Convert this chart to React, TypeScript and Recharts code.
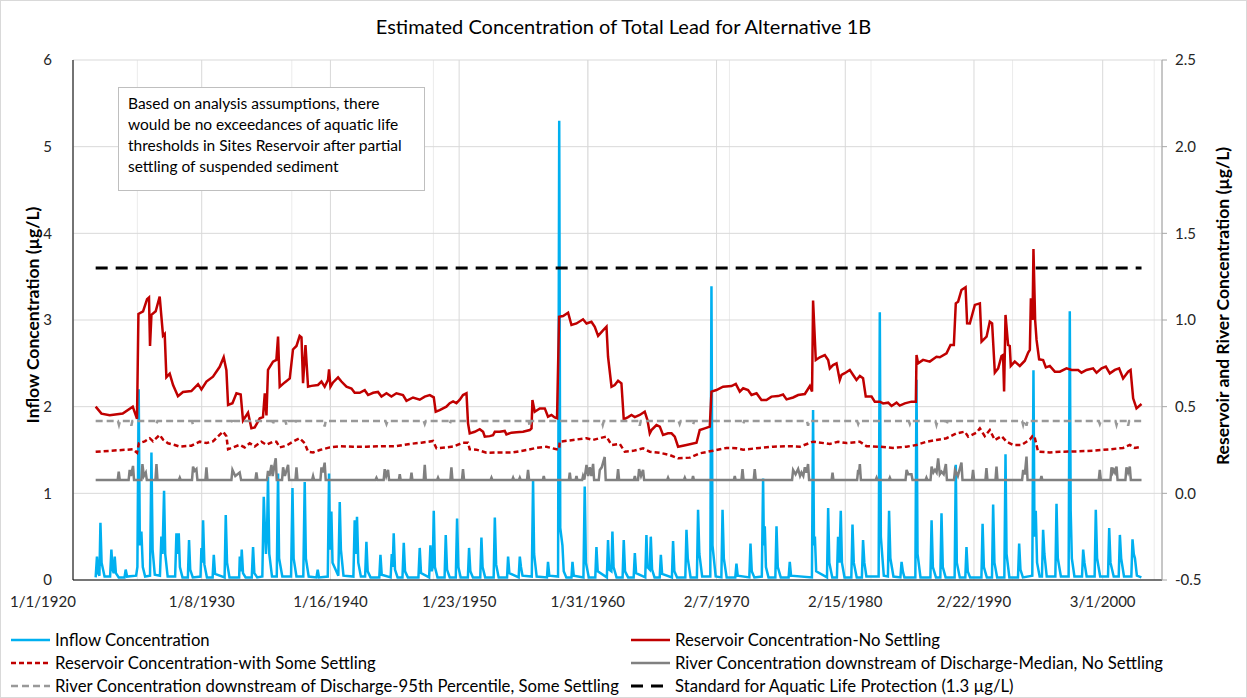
import { LineChart, Line, XAxis, YAxis, CartesianGrid, Legend } from 'recharts';

// values: [decimal year, concentration µg/L]
const inflow: [number, number][] = [
  [1921.76, 0.03], [1921.86, 0.27], [1921.95, 0.08], [1922.05, 0.05], [1922.13, 0.66], [1922.22, 0.2], [1922.45, 0.04],
  [1922.88, 0.04], [1922.98, 0.35], [1923.07, 0.12], [1923.16, 0.08], [1923.24, 0.27], [1923.33, 0.08], [1923.55, 0.03],
  [1924.0, 0.03], [1924.09, 0.12], [1924.2, 0.04], [1924.9, 0.05], [1925.0, 0.15], [1925.1, 2.2], [1925.19, 0.4],
  [1925.31, 0.56], [1925.42, 0.15], [1925.6, 0.04], [1925.98, 0.05], [1926.09, 1.47], [1926.18, 0.35], [1926.35, 0.06],
  [1926.75, 0.05], [1926.86, 0.5], [1926.95, 0.3], [1927.07, 1.03], [1927.16, 0.3], [1927.35, 0.04],
  [1927.93, 0.04], [1928.03, 0.54], [1928.12, 0.3], [1928.21, 0.54], [1928.3, 0.15], [1928.5, 0.03],
  [1928.92, 0.03], [1929.01, 0.46], [1929.1, 0.12], [1929.3, 0.03], [1929.9, 0.04], [1929.97, 0.37], [1930.03, 0.2],
  [1930.1, 0.69], [1930.2, 0.18], [1930.4, 0.03], [1930.84, 0.03], [1930.93, 0.29], [1931.03, 0.07],
  [1931.77, 0.03], [1931.86, 0.75], [1931.96, 0.2], [1932.15, 0.03], [1932.9, 0.03], [1932.95, 0.27], [1933.03, 0.1],
  [1933.1, 0.35], [1933.2, 0.08], [1933.4, 0.03], [1933.88, 0.03], [1933.98, 0.38], [1934.08, 0.08], [1934.3, 0.03],
  [1934.7, 0.04], [1934.81, 0.96], [1934.9, 0.6], [1934.98, 0.3], [1935.06, 0.5], [1935.14, 1.19], [1935.24, 0.3], [1935.45, 0.04],
  [1935.82, 0.04], [1935.92, 1.23], [1936.0, 0.25], [1936.25, 0.04], [1936.93, 0.04], [1937.04, 1.06], [1937.13, 0.25], [1937.35, 0.04],
  [1937.88, 0.04], [1937.99, 1.13], [1938.08, 0.25], [1938.3, 0.04], [1938.9, 0.03], [1939.0, 0.12], [1939.1, 0.03],
  [1939.78, 0.04], [1939.88, 1.23], [1939.96, 0.35], [1940.06, 0.79], [1940.15, 0.2], [1940.6, 0.05], [1940.71, 0.9], [1940.8, 0.35], [1941.0, 0.05],
  [1941.77, 0.04], [1941.87, 0.69], [1941.95, 0.3], [1942.05, 0.73], [1942.15, 0.2], [1942.35, 0.04],
  [1942.68, 0.04], [1942.78, 0.44], [1942.88, 0.1], [1943.1, 0.03], [1943.78, 0.03], [1943.87, 0.29], [1943.97, 0.06],
  [1944.66, 0.03], [1944.75, 0.3], [1944.82, 0.15], [1944.9, 0.54], [1945.0, 0.12], [1945.2, 0.03],
  [1945.58, 0.03], [1945.68, 0.43], [1945.78, 0.1], [1946.0, 0.03], [1946.82, 0.03], [1946.92, 0.37], [1947.02, 0.08],
  [1947.65, 0.03], [1947.75, 0.4], [1947.85, 0.1], [1947.93, 0.15], [1948.01, 0.8], [1948.1, 0.15], [1948.3, 0.03],
  [1948.85, 0.03], [1948.94, 0.52], [1949.04, 0.12], [1949.25, 0.03], [1949.72, 0.03], [1949.82, 0.71], [1949.92, 0.15], [1950.1, 0.03],
  [1950.66, 0.03], [1950.75, 0.37], [1950.85, 0.1], [1951.05, 0.03], [1951.62, 0.03], [1951.71, 0.49], [1951.8, 0.15], [1952.0, 0.03],
  [1952.66, 0.03], [1952.75, 0.72], [1952.85, 0.18], [1953.05, 0.03], [1953.7, 0.03], [1953.78, 0.27], [1953.88, 0.08],
  [1954.6, 0.03], [1954.69, 0.27], [1954.78, 0.15], [1954.9, 0.05], [1955.62, 0.04], [1955.72, 1.15], [1955.8, 0.3], [1956.0, 0.04],
  [1956.8, 0.03], [1956.88, 0.21], [1956.98, 0.05], [1957.66, 0.04], [1957.75, 5.3], [1957.83, 0.6], [1958.0, 0.4], [1958.1, 0.1], [1958.3, 0.03],
  [1958.7, 0.03], [1958.78, 0.21], [1958.88, 0.05], [1959.63, 0.03], [1959.73, 1.08], [1959.82, 0.2], [1960.05, 0.03],
  [1960.55, 0.03], [1960.64, 0.38], [1960.74, 0.1], [1961.45, 0.03], [1961.54, 0.46], [1961.63, 0.12], [1961.8, 0.1], [1961.88, 0.56], [1961.97, 0.15], [1962.2, 0.03],
  [1962.67, 0.03], [1962.76, 0.46], [1962.86, 0.1], [1963.1, 0.03], [1963.53, 0.03], [1963.62, 0.31], [1963.72, 0.08],
  [1964.43, 0.03], [1964.52, 0.52], [1964.6, 0.15], [1964.78, 0.12], [1964.86, 0.5], [1964.96, 0.12], [1965.15, 0.03],
  [1965.55, 0.03], [1965.64, 0.29], [1965.74, 0.07], [1966.5, 0.03], [1966.59, 0.45], [1966.69, 0.1], [1966.9, 0.03],
  [1967.54, 0.03], [1967.63, 0.58], [1967.73, 0.25], [1967.95, 0.03], [1968.44, 0.03], [1968.53, 0.81], [1968.63, 0.3], [1968.85, 0.04],
  [1969.48, 0.04], [1969.57, 3.39], [1969.65, 0.4], [1969.9, 0.04], [1970.34, 0.03], [1970.43, 0.81], [1970.53, 0.25], [1970.75, 0.03],
  [1971.42, 0.03], [1971.51, 0.19], [1971.61, 0.05], [1972.51, 0.03], [1972.6, 0.42], [1972.7, 0.1], [1972.9, 0.03],
  [1973.48, 0.04], [1973.58, 1.17], [1973.64, 0.4], [1973.71, 0.62], [1973.8, 0.15], [1974.0, 0.03],
  [1974.53, 0.03], [1974.62, 0.62], [1974.72, 0.15], [1974.95, 0.03], [1975.56, 0.03], [1975.65, 0.21], [1975.75, 0.05],
  [1977.37, 0.03], [1977.46, 1.96], [1977.53, 0.4], [1977.6, 0.5], [1977.7, 0.1], [1978.54, 0.03], [1978.63, 0.83], [1978.72, 0.2], [1978.95, 0.03],
  [1979.31, 0.03], [1979.4, 0.5], [1979.5, 0.2], [1979.61, 0.8], [1979.7, 0.2], [1979.9, 0.03],
  [1980.43, 0.03], [1980.52, 0.64], [1980.62, 0.2], [1980.85, 0.03], [1981.25, 0.03], [1981.34, 0.46], [1981.44, 0.2], [1981.6, 0.04],
  [1982.55, 0.04], [1982.64, 3.09], [1982.72, 0.5], [1982.95, 0.05], [1983.27, 0.04], [1983.36, 0.8], [1983.46, 0.25], [1983.7, 0.04],
  [1984.24, 0.03], [1984.33, 0.21], [1984.43, 0.1], [1984.55, 0.03], [1985.4, 0.03], [1985.49, 2.31], [1985.57, 0.3], [1985.8, 0.03],
  [1986.57, 0.03], [1986.66, 0.69], [1986.76, 0.15], [1987.0, 0.03], [1987.34, 0.03], [1987.43, 0.77], [1987.53, 0.15], [1987.75, 0.03],
  [1988.45, 0.03], [1988.54, 1.33], [1988.62, 0.2], [1988.85, 0.03], [1989.28, 0.03], [1989.37, 0.38], [1989.47, 0.1], [1989.65, 0.03],
  [1990.53, 0.03], [1990.62, 0.65], [1990.72, 0.15], [1990.95, 0.03], [1991.35, 0.03], [1991.44, 0.87], [1991.54, 0.2], [1991.75, 0.03],
  [1992.31, 0.03], [1992.4, 1.45], [1992.48, 0.3], [1992.7, 0.03], [1993.37, 0.03], [1993.46, 0.42], [1993.56, 0.12], [1993.75, 0.03],
  [1994.48, 0.05], [1994.57, 2.42], [1994.65, 0.5], [1994.75, 0.8], [1994.85, 0.2], [1995.05, 0.04],
  [1995.23, 0.04], [1995.32, 0.58], [1995.42, 0.3], [1995.6, 0.04], [1996.27, 0.04], [1996.36, 0.88], [1996.46, 0.25], [1996.7, 0.04],
  [1997.3, 0.04], [1997.39, 3.1], [1997.46, 0.8], [1997.55, 0.25], [1997.75, 0.04], [1998.34, 0.04], [1998.43, 0.35], [1998.53, 0.2], [1998.7, 0.04],
  [1999.32, 0.04], [1999.41, 0.81], [1999.51, 0.25], [1999.75, 0.04], [2000.36, 0.04], [2000.45, 0.6], [2000.55, 0.2], [2000.8, 0.04],
  [2001.19, 0.04], [2001.28, 0.52], [2001.38, 0.25], [2001.6, 0.04], [2002.17, 0.04], [2002.26, 0.47], [2002.36, 0.3], [2002.45, 0.25], [2002.6, 0.05], [2002.95, 0.03],
];

const reservoirNoSettling: [number, number][] = [
  [1921.76, 0.5], [1922.21, 0.46], [1922.85, 0.45], [1923.86, 0.46], [1924.64, 0.5], [1924.97, 0.43], [1925.08, 1.035], [1925.44, 1.05],
  [1925.75, 1.12], [1925.9, 1.13], [1925.98, 0.85], [1926.09, 1.03], [1926.42, 1.05], [1926.73, 1.135], [1926.99, 0.91], [1927.12, 0.92],
  [1927.25, 0.67], [1927.51, 0.69], [1927.77, 0.625], [1928.15, 0.56], [1928.54, 0.585], [1929.19, 0.59], [1929.71, 0.63], [1929.97, 0.6],
  [1930.36, 0.645], [1930.87, 0.673], [1931.39, 0.73], [1931.7, 0.785], [1931.91, 0.71], [1932.04, 0.51], [1932.38, 0.52], [1932.69, 0.577],
  [1933.02, 0.57], [1933.2, 0.42], [1933.59, 0.465], [1933.85, 0.375], [1934.11, 0.38], [1934.5, 0.433], [1934.75, 0.44], [1934.89, 0.577],
  [1935.02, 0.45], [1935.14, 0.712], [1935.53, 0.76], [1935.79, 0.77], [1935.92, 0.904], [1936.05, 0.615], [1936.44, 0.64], [1936.83, 0.663],
  [1937.08, 0.83], [1937.35, 0.85], [1937.6, 0.908], [1937.74, 0.9], [1937.86, 0.635], [1938.05, 0.856], [1938.25, 0.615], [1938.51, 0.62],
  [1939.02, 0.625], [1939.29, 0.645], [1939.54, 0.615], [1939.8, 0.655], [1939.88, 0.715], [1939.99, 0.615], [1940.19, 0.64], [1940.58, 0.669],
  [1940.84, 0.645], [1941.23, 0.615], [1941.62, 0.605], [1941.87, 0.58], [1942.26, 0.58], [1942.65, 0.595], [1942.91, 0.567], [1943.3, 0.58],
  [1943.68, 0.585], [1943.95, 0.558], [1944.34, 0.577], [1944.72, 0.558], [1945.11, 0.577], [1945.62, 0.567], [1945.89, 0.534], [1946.4, 0.553],
  [1946.92, 0.54], [1947.31, 0.558], [1947.7, 0.567], [1948.01, 0.554], [1948.16, 0.471], [1948.47, 0.48], [1948.73, 0.49], [1948.99, 0.5],
  [1949.25, 0.52], [1949.51, 0.53], [1949.77, 0.52], [1950.03, 0.54], [1950.28, 0.567], [1950.55, 0.577], [1950.67, 0.404], [1950.8, 0.346],
  [1951.19, 0.355], [1951.58, 0.37], [1951.84, 0.355], [1951.97, 0.327], [1952.36, 0.33], [1952.61, 0.335], [1952.75, 0.355], [1953.13, 0.355],
  [1953.52, 0.36], [1953.65, 0.34], [1954.04, 0.35], [1954.43, 0.352], [1954.94, 0.355], [1955.46, 0.365], [1955.6, 0.375], [1955.67, 0.538],
  [1955.85, 0.471], [1956.24, 0.49], [1956.63, 0.49], [1956.88, 0.442], [1957.15, 0.452], [1957.4, 0.438], [1957.58, 0.433], [1957.74, 1.019],
  [1958.05, 1.023], [1958.44, 1.042], [1958.7, 0.971], [1959.09, 0.98], [1959.6, 1.004], [1959.87, 0.98], [1960.25, 0.99], [1960.51, 0.96],
  [1960.77, 0.908], [1961.15, 0.94], [1961.42, 0.961], [1961.54, 0.788], [1961.81, 0.615], [1962.06, 0.625], [1962.32, 0.65], [1962.58, 0.635],
  [1962.76, 0.427], [1963.1, 0.44], [1963.36, 0.452], [1963.62, 0.44], [1964.0, 0.452], [1964.39, 0.471], [1964.6, 0.423], [1964.78, 0.346],
  [1964.91, 0.365], [1965.3, 0.394], [1965.56, 0.385], [1965.81, 0.337], [1966.2, 0.346], [1966.47, 0.346], [1966.72, 0.327], [1966.98, 0.269],
  [1967.63, 0.279], [1968.41, 0.292], [1968.66, 0.365], [1969.05, 0.375], [1969.44, 0.385], [1969.57, 0.587], [1969.96, 0.596], [1970.47, 0.615],
  [1971.13, 0.619], [1971.46, 0.631], [1971.77, 0.587], [1972.03, 0.606], [1972.41, 0.596], [1972.68, 0.567], [1973.07, 0.577], [1973.45, 0.538],
  [1973.84, 0.538], [1974.23, 0.558], [1974.74, 0.561], [1975.13, 0.57], [1975.4, 0.542], [1975.91, 0.553], [1976.3, 0.567], [1976.82, 0.573],
  [1977.21, 0.619], [1977.38, 0.587], [1977.46, 1.112], [1977.67, 0.769], [1977.98, 0.785], [1978.37, 0.798], [1978.63, 0.769], [1978.76, 0.721],
  [1979.01, 0.74], [1979.28, 0.75], [1979.53, 0.654], [1979.67, 0.683], [1979.92, 0.693], [1980.31, 0.712], [1980.57, 0.683], [1980.83, 0.654],
  [1981.09, 0.677], [1981.34, 0.664], [1981.55, 0.558], [1982.0, 0.558], [1982.25, 0.529], [1982.64, 0.529], [1982.9, 0.519], [1983.29, 0.523],
  [1983.55, 0.504], [1983.94, 0.523], [1984.19, 0.506], [1984.58, 0.519], [1985.1, 0.529], [1985.44, 0.529], [1985.49, 0.798], [1985.61, 0.75],
  [1986.0, 0.77], [1986.52, 0.76], [1987.04, 0.788], [1987.3, 0.785], [1987.82, 0.808], [1988.13, 0.856], [1988.39, 0.856], [1988.54, 1.096],
  [1988.72, 1.106], [1988.98, 1.173], [1989.3, 1.189], [1989.42, 0.981], [1989.63, 0.98], [1990.02, 1.087], [1990.41, 1.096], [1990.54, 0.875],
  [1990.93, 0.904], [1991.18, 0.99], [1991.36, 0.98], [1991.57, 0.696], [1991.83, 0.721], [1992.09, 0.792], [1992.21, 0.798], [1992.29, 0.587],
  [1992.4, 1.029], [1992.6, 0.856], [1992.73, 0.85], [1992.81, 0.735], [1993.12, 0.76], [1993.51, 0.735], [1993.9, 0.765], [1994.16, 0.812],
  [1994.29, 0.827], [1994.37, 1.125], [1994.5, 1.0], [1994.57, 1.41], [1994.7, 1.0], [1994.81, 0.885], [1995.01, 0.773], [1995.32, 0.769],
  [1995.53, 0.727], [1995.84, 0.735], [1996.23, 0.702], [1996.62, 0.702], [1997.14, 0.721], [1997.53, 0.712], [1998.04, 0.712], [1998.3, 0.696],
  [1998.69, 0.712], [1999.2, 0.721], [1999.47, 0.696], [1999.86, 0.721], [2000.19, 0.731], [2000.5, 0.692], [2000.89, 0.712], [2001.22, 0.721],
  [2001.53, 0.663], [2001.92, 0.702], [2002.11, 0.712], [2002.31, 0.548], [2002.57, 0.49], [2002.96, 0.515],
];

const reservoirSomeSettling: [number, number][] = [
  [1921.76, 0.24], [1924.66, 0.254], [1924.97, 0.234], [1925.12, 0.289], [1925.57, 0.3], [1925.96, 0.318], [1926.21, 0.3], [1926.73, 0.337],
  [1926.99, 0.31], [1927.38, 0.289], [1927.9, 0.279], [1928.29, 0.269], [1929.19, 0.275], [1929.84, 0.298], [1930.36, 0.29], [1930.87, 0.3],
  [1931.65, 0.356], [1931.91, 0.33], [1932.04, 0.254], [1932.42, 0.265], [1932.94, 0.28], [1933.33, 0.265], [1933.72, 0.289], [1934.11, 0.27],
  [1934.63, 0.298], [1935.02, 0.28], [1935.53, 0.298], [1935.79, 0.298], [1936.05, 0.265], [1936.57, 0.275], [1937.08, 0.298], [1937.6, 0.318],
  [1937.99, 0.289], [1938.25, 0.24], [1938.64, 0.236], [1939.16, 0.25], [1939.93, 0.265], [1940.71, 0.272], [1941.74, 0.269], [1942.78, 0.269],
  [1944.07, 0.272], [1945.11, 0.272], [1946.15, 0.285], [1947.05, 0.292], [1947.95, 0.302], [1948.22, 0.26], [1948.99, 0.265], [1949.51, 0.27],
  [1950.28, 0.292], [1950.67, 0.292], [1950.8, 0.254], [1951.32, 0.252], [1952.1, 0.234], [1953.13, 0.236], [1954.17, 0.236], [1955.21, 0.25],
  [1955.98, 0.262], [1956.76, 0.269], [1957.54, 0.254], [1957.74, 0.254], [1957.79, 0.298], [1958.83, 0.308], [1959.87, 0.318], [1960.38, 0.308],
  [1961.15, 0.323], [1961.42, 0.327], [1961.81, 0.279], [1962.45, 0.285], [1962.84, 0.24], [1963.48, 0.245], [1964.26, 0.26], [1964.78, 0.24],
  [1965.56, 0.234], [1966.33, 0.221], [1966.98, 0.202], [1967.89, 0.206], [1968.66, 0.231], [1969.7, 0.246], [1970.74, 0.262], [1971.51, 0.26],
  [1972.03, 0.252], [1973.32, 0.262], [1974.36, 0.269], [1975.65, 0.272], [1976.43, 0.269], [1977.46, 0.298], [1978.76, 0.285], [1979.4, 0.298],
  [1980.06, 0.29], [1981.09, 0.298], [1981.61, 0.272], [1982.64, 0.269], [1983.67, 0.262], [1984.71, 0.269], [1985.49, 0.279], [1986.27, 0.298],
  [1987.04, 0.308], [1987.82, 0.318], [1988.6, 0.346], [1989.24, 0.356], [1989.5, 0.327], [1990.15, 0.35], [1990.41, 0.375], [1990.79, 0.33],
  [1991.18, 0.365], [1991.57, 0.308], [1992.09, 0.33], [1992.48, 0.298], [1992.99, 0.279], [1993.64, 0.279], [1994.29, 0.31], [1994.5, 0.331],
  [1994.64, 0.331], [1994.93, 0.24], [1995.84, 0.236], [1996.62, 0.24], [1997.91, 0.242], [1999.2, 0.246], [2000.5, 0.254], [2001.53, 0.262],
  [2002.05, 0.279], [2002.44, 0.262], [2002.96, 0.269],
];

const riverMedian: [number, number][] = [
  [1921.76, 0.077], [1923.47, 0.077], [1923.55, 0.125], [1923.63, 0.077], [1924.32, 0.077], [1924.4, 0.135], [1924.5, 0.1], [1924.66, 0.158], [1924.74, 0.077],
  [1925.31, 0.077], [1925.39, 0.169], [1925.5, 0.1], [1925.65, 0.12], [1925.73, 0.077], [1926.4, 0.077], [1926.48, 0.169], [1926.56, 0.077],
  [1928.22, 0.077], [1928.29, 0.09], [1928.36, 0.077], [1929.24, 0.077], [1929.32, 0.154], [1929.45, 0.13], [1929.58, 0.14], [1929.66, 0.077],
  [1930.28, 0.077], [1930.36, 0.15], [1930.44, 0.077], [1932.3, 0.077], [1932.38, 0.135], [1932.6, 0.1], [1932.94, 0.12], [1933.05, 0.077],
  [1934.16, 0.077], [1934.24, 0.12], [1934.32, 0.077], [1935.06, 0.077], [1935.14, 0.13], [1935.25, 0.1], [1935.41, 0.164], [1935.5, 0.1], [1935.74, 0.202], [1935.82, 0.077],
  [1936.23, 0.077], [1936.31, 0.15], [1936.45, 0.1], [1936.7, 0.164], [1936.78, 0.077], [1937.27, 0.077], [1937.35, 0.15], [1937.43, 0.077],
  [1938.56, 0.077], [1938.64, 0.1], [1938.72, 0.077], [1939.21, 0.077], [1939.29, 0.15], [1939.4, 0.12], [1939.54, 0.177], [1939.62, 0.077],
  [1943.48, 0.077], [1943.56, 0.09], [1943.64, 0.077], [1944.12, 0.077], [1944.2, 0.139], [1944.32, 0.1], [1944.46, 0.135], [1944.54, 0.077],
  [1945.3, 0.077], [1945.37, 0.11], [1945.44, 0.077], [1946.21, 0.077], [1946.28, 0.12], [1946.35, 0.077], [1947.23, 0.077], [1947.31, 0.164], [1947.39, 0.077],
  [1948.27, 0.077], [1948.34, 0.09], [1948.41, 0.077], [1949.3, 0.077], [1949.38, 0.15], [1949.46, 0.077], [1950.2, 0.077], [1950.28, 0.14], [1950.36, 0.077],
  [1952.42, 0.077], [1952.49, 0.09], [1952.56, 0.077], [1954.1, 0.077], [1954.17, 0.09], [1954.24, 0.077], [1954.62, 0.077], [1954.69, 0.09], [1954.76, 0.077],
  [1955.25, 0.077], [1955.33, 0.135], [1955.41, 0.077], [1956.48, 0.077], [1956.55, 0.1], [1956.62, 0.077], [1958.5, 0.077], [1958.57, 0.12], [1958.64, 0.077],
  [1959.02, 0.077], [1959.09, 0.1], [1959.16, 0.077], [1959.53, 0.077], [1959.6, 0.1], [1959.7, 0.08], [1959.87, 0.164], [1960.0, 0.1], [1960.12, 0.15],
  [1960.25, 0.1], [1960.38, 0.17], [1960.46, 0.077], [1960.82, 0.077], [1960.9, 0.135], [1961.05, 0.15], [1961.28, 0.21], [1961.36, 0.077],
  [1962.24, 0.077], [1962.32, 0.14], [1962.4, 0.077], [1963.55, 0.077], [1963.62, 0.1], [1963.7, 0.077], [1963.87, 0.077], [1963.95, 0.14], [1964.1, 0.1], [1964.26, 0.135], [1964.34, 0.077],
  [1966.13, 0.077], [1966.2, 0.09], [1966.27, 0.077], [1967.43, 0.077], [1967.5, 0.09], [1967.57, 0.077], [1968.07, 0.077], [1968.14, 0.1], [1968.21, 0.077],
  [1971.31, 0.077], [1971.38, 0.1], [1971.45, 0.077], [1971.9, 0.077], [1971.98, 0.139], [1972.06, 0.077], [1972.85, 0.077], [1972.93, 0.139], [1973.01, 0.077],
  [1975.83, 0.077], [1975.91, 0.135], [1976.1, 0.11], [1976.3, 0.14], [1976.45, 0.1], [1976.56, 0.12], [1976.7, 0.1], [1976.82, 0.15], [1976.95, 0.12], [1977.07, 0.169], [1977.15, 0.077],
  [1978.9, 0.077], [1978.97, 0.12], [1979.04, 0.077], [1980.88, 0.077], [1980.96, 0.135], [1981.02, 0.11], [1981.09, 0.169], [1981.17, 0.077],
  [1982.32, 0.077], [1982.39, 0.09], [1982.46, 0.077], [1983.35, 0.077], [1983.42, 0.09], [1983.49, 0.077], [1984.64, 0.077], [1984.72, 0.135], [1984.85, 0.11], [1985.1, 0.11], [1985.18, 0.077],
  [1986.19, 0.077], [1986.26, 0.09], [1986.33, 0.077], [1986.58, 0.077], [1986.66, 0.154], [1986.8, 0.12], [1986.92, 0.135], [1987.05, 0.12], [1987.17, 0.202],
  [1987.3, 0.11], [1987.43, 0.125], [1987.6, 0.11], [1987.77, 0.169], [1987.85, 0.077], [1988.4, 0.077], [1988.48, 0.135], [1988.7, 0.1], [1988.98, 0.177], [1989.06, 0.077],
  [1989.8, 0.077], [1989.88, 0.135], [1989.96, 0.077], [1990.84, 0.077], [1990.92, 0.145], [1991.0, 0.077], [1991.62, 0.077], [1991.7, 0.154], [1991.78, 0.077],
  [1993.69, 0.077], [1993.77, 0.135], [1993.9, 0.11], [1994.03, 0.212], [1994.11, 0.077], [1995.12, 0.077], [1995.19, 0.1], [1995.26, 0.077],
  [1999.64, 0.077], [1999.72, 0.135], [1999.8, 0.077], [2000.55, 0.077], [2000.63, 0.15], [2000.72, 0.12], [2000.81, 0.135], [2000.9, 0.12], [2001.02, 0.154], [2001.1, 0.077],
  [2001.71, 0.077], [2001.79, 0.15], [2001.92, 0.12], [2002.05, 0.154], [2002.13, 0.077], [2002.96, 0.077],
];

const river95th: [number, number][] = [
  [1921.76, 0.417], [1923.49, 0.417], [1923.57, 0.395], [1923.65, 0.417], [1924.45, 0.417], [1924.53, 0.39], [1924.61, 0.417],
  [1926.4, 0.417], [1926.48, 0.4], [1926.56, 0.417], [1929.24, 0.417], [1929.32, 0.395], [1929.4, 0.417], [1932.34, 0.417], [1932.42, 0.4], [1932.5, 0.417],
  [1935.43, 0.417], [1935.51, 0.395], [1935.59, 0.417], [1936.49, 0.417], [1936.57, 0.395], [1936.65, 0.417], [1937.14, 0.417], [1937.22, 0.4], [1937.3, 0.417],
  [1939.46, 0.417], [1939.54, 0.385], [1939.62, 0.417], [1944.26, 0.417], [1944.34, 0.4], [1944.42, 0.417], [1947.23, 0.417], [1947.31, 0.4], [1947.39, 0.417],
  [1949.17, 0.417], [1949.25, 0.4], [1949.33, 0.417], [1955.38, 0.417], [1955.46, 0.385], [1955.54, 0.417], [1961.05, 0.417], [1961.13, 0.395], [1961.21, 0.417],
  [1963.92, 0.417], [1964.0, 0.39], [1964.08, 0.417], [1967.02, 0.417], [1967.1, 0.4], [1967.18, 0.417], [1968.06, 0.417], [1968.14, 0.395], [1968.22, 0.417],
  [1971.95, 0.417], [1972.03, 0.4], [1972.11, 0.417], [1976.99, 0.417], [1977.07, 0.39], [1977.15, 0.417], [1980.88, 0.417], [1980.96, 0.4], [1981.04, 0.417],
  [1984.89, 0.417], [1984.97, 0.4], [1985.05, 0.417], [1986.96, 0.417], [1987.04, 0.395], [1987.12, 0.417], [1987.74, 0.417], [1987.82, 0.395], [1987.9, 0.417],
  [1993.69, 0.417], [1993.77, 0.395], [1993.85, 0.417], [1993.95, 0.417], [1994.03, 0.39], [1994.11, 0.417], [1999.64, 0.417], [1999.72, 0.4], [1999.8, 0.417],
  [2000.94, 0.417], [2001.02, 0.395], [2001.1, 0.417], [2001.84, 0.417], [2001.92, 0.39], [2002.0, 0.417], [2002.96, 0.417],
];

const aquaticLifeStandard: [number, number][] = [[1921.76, 1.3], [2002.96, 1.3]];

const dateTickLabels = ['1/1/1920', '1/8/1930', '1/16/1940', '1/23/1950', '1/31/1960', '2/7/1970', '2/15/1980', '2/22/1990', '3/1/2000'];
const leftTicks = [0, 1, 2, 3, 4, 5, 6];
const rightTicks = [-0.5, 0, 0.5, 1, 1.5, 2, 2.5];

const FONT = 'Lato, "Open Sans", sans-serif';
const X_MIN = 1920;
const X_MAX = 2004.55;
// Excel date axis: major unit 3650 days, minor unit 365 days
const majorTicks = dateTickLabels.map((_, i) => X_MIN + (i * 3650) / 365.25);
const minorTicks = Array.from({ length: 85 }, (_, i) => X_MIN + (i * 365) / 365.25).filter(t => t <= X_MAX);

const toRows = (pts: [number, number][]) => pts.map(([t, v]) => ({ t, v }));

interface SeriesDef {
  name: string;
  data: [number, number][];
  axis: 'left' | 'right';
  color: string;
  width: number;
  dash?: string;
}

const series: SeriesDef[] = [
  { name: 'Inflow Concentration', data: inflow, axis: 'left', color: '#00B0F0', width: 2.5 },
  { name: 'Reservoir Concentration-No Settling', data: reservoirNoSettling, axis: 'right', color: '#C00000', width: 2.5 },
  { name: 'Reservoir Concentration-with Some Settling', data: reservoirSomeSettling, axis: 'right', color: '#C00000', width: 2.5, dash: '5 3' },
  { name: 'River Concentration downstream of Discharge-Median, No Settling', data: riverMedian, axis: 'right', color: '#808080', width: 2.5 },
  { name: 'River Concentration downstream of Discharge-95th Percentile, Some Settling', data: river95th, axis: 'right', color: '#999999', width: 2.5, dash: '7 4' },
  { name: 'Standard for Aquatic Life Protection (1.3 µg/L)', data: aquaticLifeStandard, axis: 'right', color: '#000000', width: 3, dash: '12 8' },
];

const renderLegend = () => (
  <div style={{ position: 'relative', width: 1247, height: 70, fontFamily: FONT, fontSize: 16.7, color: '#000' }}>
    {series.map((s, i) => {
      const col = i % 2;
      const row = Math.floor(i / 2);
      return (
        <div key={s.name} style={{ position: 'absolute', left: col === 0 ? 11 : 631, top: row * 23, height: 20, display: 'flex', alignItems: 'center', whiteSpace: 'nowrap' }}>
          <svg width={39} height={8}>
            <line x1={0} y1={4} x2={39} y2={4} stroke={s.color} strokeWidth={s.width} strokeDasharray={s.dash} />
          </svg>
          <span style={{ marginLeft: 5 }}>{s.name}</span>
        </div>
      );
    })}
  </div>
);

const tickStyle = { fontFamily: FONT, fontSize: 15, fill: '#262626' };

const renderDateTick = (props: any) => {
  const { x, y, payload } = props;
  const idx = majorTicks.findIndex(t => Math.abs(t - payload.value) < 1e-6);
  // the first label sits left of its tick in the reference
  const shift = idx === 0 ? -30 : 0;
  return (
    <text x={x + shift} y={y} dy="0.71em" textAnchor="middle" style={tickStyle}>
      {dateTickLabels[idx] ?? ''}
    </text>
  );
};

export default function App() {
  return (
    <div style={{ position: 'absolute', left: 0, top: 0, width: 1247, height: 698, background: '#fff', fontFamily: FONT }}>
      <div style={{ position: 'absolute', left: 0, top: 14, width: 1247, textAlign: 'center', fontSize: 20, color: '#000' }}>
        Estimated Concentration of Total Lead for Alternative 1B
      </div>
      <LineChart width={1247} height={698} margin={{ top: 60, right: 35, bottom: 88, left: 33 }}>
        <CartesianGrid xAxisId="minor" yAxisId="left" horizontal={false} stroke="#ebebeb" />
        <CartesianGrid xAxisId="main" yAxisId="left" stroke="#d9d9d9" />
        <XAxis
          xAxisId="main"
          type="number"
          dataKey="t"
          domain={[X_MIN, X_MAX]}
          ticks={majorTicks}
          interval={0}
          allowDataOverflow
          axisLine={{ stroke: '#000' }}
          tickLine={false}
          tickMargin={10}
          tick={renderDateTick}
          height={30}
        />
        <XAxis xAxisId="minor" type="number" dataKey="t" domain={[X_MIN, X_MAX]} ticks={minorTicks} allowDataOverflow hide />
        <YAxis
          yAxisId="left"
          domain={[0, 6]}
          ticks={leftTicks}
          allowDataOverflow
          width={40}
          axisLine={{ stroke: '#000' }}
          tickLine={false}
          tickMargin={15}
          tick={tickStyle}
          label={{
            content: (props: any) => {
              const vb = props.viewBox;
              const cx = vb.x - 1;
              const cy = vb.y + vb.height / 2 - 5;
              return (
                <text x={cx} y={cy} transform={`rotate(-90 ${cx} ${cy})`} textAnchor="middle" dominantBaseline="central"
                  style={{ fontFamily: FONT, fontSize: 17.5, fontWeight: 700, fill: '#000' }}>
                  Inflow Concentration (µg/L)
                </text>
              );
            },
          }}
        />
        <YAxis
          yAxisId="right"
          orientation="right"
          domain={[-0.5, 2.5]}
          ticks={rightTicks}
          allowDataOverflow
          tickFormatter={(v: number) => v.toFixed(1)}
          width={50}
          axisLine={{ stroke: '#a6a6a6' }}
          tickLine={{ stroke: '#a6a6a6' }}
          tickSize={5}
          tickMargin={8}
          tick={tickStyle}
          label={{
            content: (props: any) => {
              const vb = props.viewBox;
              const cx = vb.x + 60;
              const cy = vb.y + vb.height / 2 - 14;
              return (
                <text x={cx} y={cy} transform={`rotate(-90 ${cx} ${cy})`} textAnchor="middle" dominantBaseline="central"
                  style={{ fontFamily: FONT, fontSize: 17.5, fontWeight: 700, fill: '#000' }}>
                  Reservoir and River Concentration (µg/L)
                </text>
              );
            },
          }}
        />
        {series.map(s => (
          <Line
            key={s.name}
            name={s.name}
            data={toRows(s.data)}
            dataKey="v"
            xAxisId="main"
            yAxisId={s.axis}
            type="linear"
            stroke={s.color}
            strokeWidth={s.width}
            strokeDasharray={s.dash}
            dot={false}
            activeDot={false}
            isAnimationActive={false}
          />
        ))}
        <Legend layout="vertical" align="center" verticalAlign="middle" content={renderLegend}
          wrapperStyle={{ left: 0, top: 630, width: 1247, height: 70 }} />
      </LineChart>
      <div style={{ position: 'absolute', left: 118, top: 87, width: 307, height: 104, boxSizing: 'border-box', border: '1px solid #bfbfbf', background: '#fff', padding: '5px 9px', fontSize: 15.5, lineHeight: '21px', color: '#000' }}>
        Based on analysis assumptions, there<br />
        would be no exceedances of aquatic life<br />
        thresholds in Sites Reservoir after partial<br />
        settling of suspended sediment
      </div>
      <div style={{ position: 'absolute', left: 0, top: 0, width: 1247, height: 698, boxSizing: 'border-box', border: '1px solid #d9d9d9', pointerEvents: 'none' }} />
    </div>
  );
}
